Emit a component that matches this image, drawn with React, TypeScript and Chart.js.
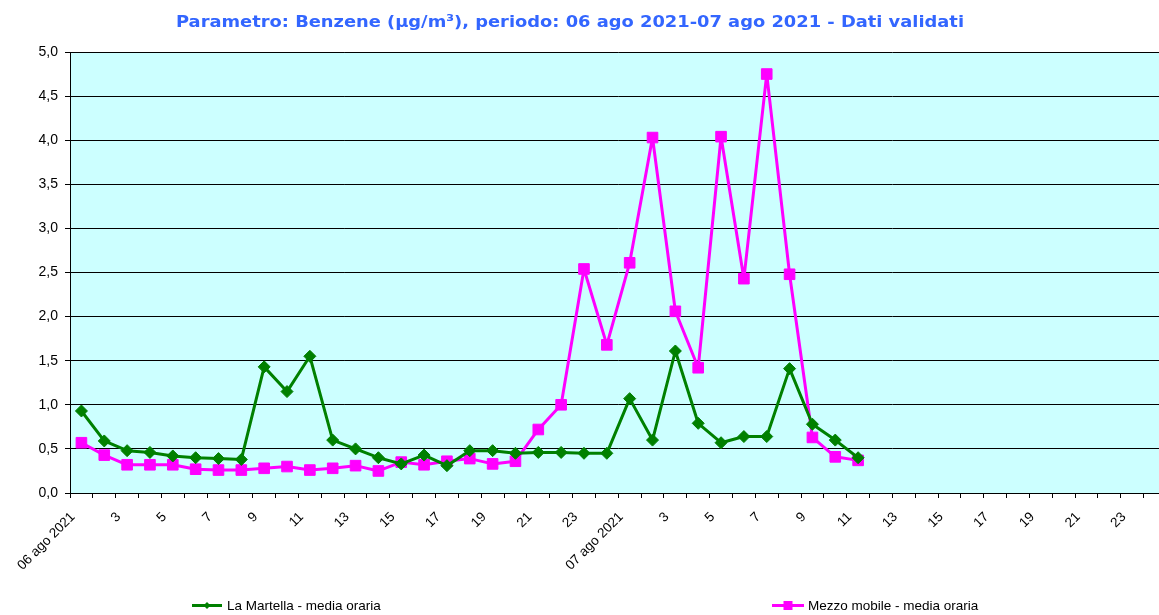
import React, { useEffect, useRef } from 'react';
import { Chart, registerables } from 'chart.js';

Chart.register(...registerables);

const titleText = 'Parametro: Benzene (µg/m³), periodo: 06 ago 2021-07 ago 2021 - Dati validati';
const days = ['06 ago 2021', '07 ago 2021'];
const hoursPerDay = 24;
const seriesNames = ['La Martella - media oraria', 'Mezzo mobile - media oraria'];

const laMartella = [
  0.93, 0.59, 0.48, 0.46, 0.42, 0.40, 0.39, 0.38, 1.43, 1.15, 1.55, 0.60,
  0.50, 0.40, 0.33, 0.43, 0.31, 0.48, 0.48, 0.45, 0.46, 0.46, 0.45, 0.45,
  1.07, 0.60, 1.61, 0.79, 0.57, 0.64, 0.64, 1.41, 0.78, 0.60, 0.40,
];
const mezzoMobile = [
  0.57, 0.43, 0.32, 0.32, 0.32, 0.27, 0.26, 0.26, 0.28, 0.30, 0.26, 0.28,
  0.31, 0.25, 0.35, 0.32, 0.36, 0.39, 0.33, 0.36, 0.72, 1.00, 2.54, 1.68,
  2.61, 4.03, 2.06, 1.42, 4.04, 2.43, 4.75, 2.48, 0.63, 0.41, 0.37,
];
const yTicks = [0, 0.5, 1, 1.5, 2, 2.5, 3, 3.5, 4, 4.5, 5];

// tick labels at category boundaries: day name at hour 1, odd hours otherwise
const tickLabels: string[] = [];
days.forEach((d) => {
  for (let h = 1; h <= hoursPerDay; h++) {
    tickLabels.push(h === 1 ? d : h % 2 === 1 ? String(h) : '');
  }
});

const GREEN = '#008000';
const PINK = '#ff00ff';
const FONT = '"Liberation Sans", Arial, sans-serif';

const decorPlugin = {
  id: 'decor',
  beforeDraw(chart: any) {
    const { ctx, chartArea } = chart;
    ctx.save();
    ctx.fillStyle = '#ccffff';
    ctx.fillRect(chartArea.left, chartArea.top, chartArea.right - chartArea.left, chartArea.bottom - chartArea.top);
    ctx.restore();
  },
  afterDraw(chart: any) {
    const { ctx } = chart;
    ctx.save();
    ctx.font = 'bold 16.5px "DejaVu Sans", Verdana, sans-serif';
    ctx.fillStyle = '#3366ff';
    ctx.textAlign = 'left';
    ctx.textBaseline = 'alphabetic';
    const w = ctx.measureText(titleText).width;
    const targetW = 788;
    ctx.save();
    ctx.translate(176, 27);
    ctx.scale(targetW / w, 1);
    ctx.fillText(titleText, 0, 0);
    ctx.restore();

    const items = [
      { label: seriesNames[0], color: GREEN, style: 'diamond', x0: 192, x1: 222, tx: 227 },
      { label: seriesNames[1], color: PINK, style: 'square', x0: 772, x1: 804, tx: 808 },
    ];
    const y = 605.5;
    items.forEach((it) => {
      ctx.strokeStyle = it.color;
      ctx.fillStyle = it.color;
      ctx.lineWidth = 3;
      ctx.beginPath();
      ctx.moveTo(it.x0, y);
      ctx.lineTo(it.x1, y);
      ctx.stroke();
      const cx = (it.x0 + it.x1) / 2;
      ctx.beginPath();
      if (it.style === 'diamond') {
        ctx.moveTo(cx - 3.5, y);
        ctx.lineTo(cx, y - 3.5);
        ctx.lineTo(cx + 3.5, y);
        ctx.lineTo(cx, y + 3.5);
        ctx.closePath();
      } else {
        ctx.rect(cx - 4.5, y - 4.5, 9, 9);
      }
      ctx.fill();
      ctx.fillStyle = '#000';
      ctx.font = '13.5px ' + FONT;
      ctx.textAlign = 'left';
      ctx.textBaseline = 'middle';
      ctx.fillText(it.label, it.tx, y + 1);
    });
    ctx.restore();
  },
};

export default function App() {
  const ref = useRef<HTMLCanvasElement>(null);
  useEffect(() => {
    if (!ref.current) return;
    const chart = new Chart(ref.current, {
      type: 'line',
      data: {
        datasets: [
          {
            label: seriesNames[0],
            data: laMartella.map((v, i) => ({ x: i + 0.5, y: v })),
            borderColor: GREEN,
            backgroundColor: GREEN,
            borderWidth: 3,
            borderJoinStyle: 'round',
            pointStyle: 'rectRot',
            pointRadius: 6,
            pointBorderWidth: 1,
            tension: 0,
          },
          {
            label: seriesNames[1],
            data: mezzoMobile.map((v, i) => ({ x: i + 0.5, y: v })),
            borderColor: PINK,
            backgroundColor: PINK,
            borderWidth: 3,
            borderJoinStyle: 'round',
            pointStyle: 'rect',
            pointRadius: 7.5,
            pointBorderWidth: 1,
            tension: 0,
          },
        ],
      },
      options: {
        responsive: false,
        animation: false,
        devicePixelRatio: 1,
        layout: { padding: { top: 52, right: 2, left: 0, bottom: 0 } },
        plugins: { legend: { display: false }, title: { display: false }, tooltip: { enabled: false } },
        scales: {
          x: {
            type: 'linear',
            min: 0,
            max: tickLabels.length,
            afterBuildTicks: (axis: any) => {
              axis.ticks = tickLabels.map((_, i) => ({ value: i }));
            },
            afterFit: (scale: any) => {
              scale.height = 122;
              scale.paddingLeft = 0;
              scale.paddingRight = 0;
            },
            ticks: {
              autoSkip: false,
              minRotation: 45,
              maxRotation: 45,
              padding: 11,
              labelOffset: 3,
              color: '#000',
              font: { family: FONT, size: 13.5 },
              callback: (v: any) => tickLabels[Math.round(v)] ?? '',
            },
            grid: { drawOnChartArea: false, drawTicks: true, tickLength: 5, color: '#000' },
            border: { color: '#000', width: 1 },
          },
          y: {
            min: 0,
            max: 5,
            afterBuildTicks: (axis: any) => {
              axis.ticks = yTicks.map((v) => ({ value: v }));
            },
            afterFit: (scale: any) => {
              scale.width = 70;
            },
            ticks: {
              padding: 7,
              color: '#000',
              font: { family: FONT, size: 14 },
              callback: (v: any) => Number(v).toFixed(1).replace('.', ','),
            },
            grid: { color: '#000', lineWidth: 1, tickLength: 5 },
            border: { color: '#000', width: 1 },
          },
        },
      },
      plugins: [decorPlugin],
    });
    return () => chart.destroy();
  }, []);

  return (
    <div style={{ position: 'fixed', left: 0, top: 0, width: 1159, height: 615, overflow: 'hidden', background: '#fff' }}>
      <canvas ref={ref} width={1175} height={615} style={{ display: 'block' }} />
    </div>
  );
}
